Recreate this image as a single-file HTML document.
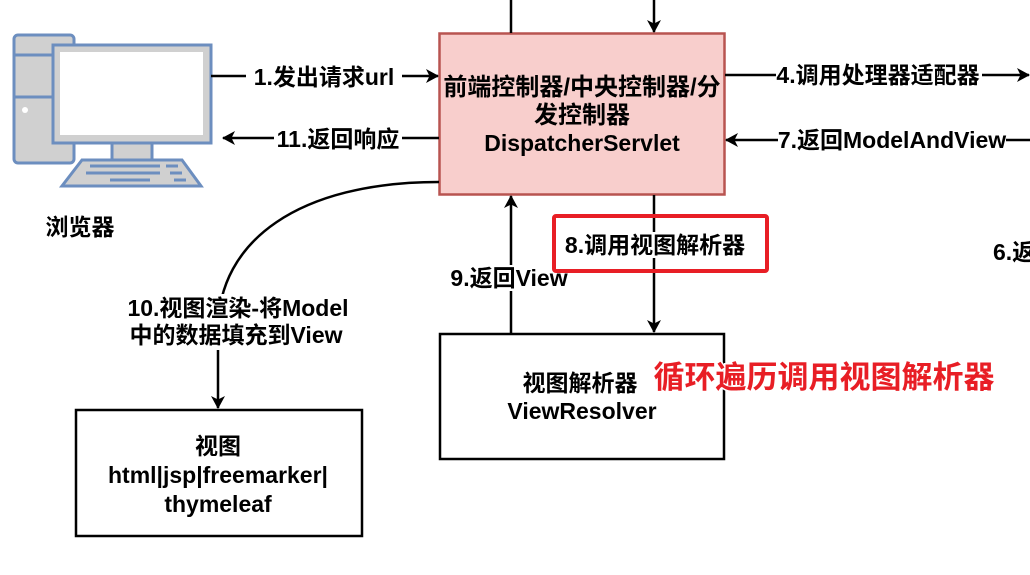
<!DOCTYPE html>
<html><head><meta charset="utf-8"><style>body{margin:0;background:#fff}svg{display:block}text{font-family:"Liberation Sans","Noto Sans CJK SC",sans-serif;font-weight:bold;font-size:23px;fill:#000}</style></head><body>
<svg width="1030" height="575" viewBox="0 0 1030 575" xmlns="http://www.w3.org/2000/svg">
<defs><marker id="a" markerWidth="14" markerHeight="14" refX="12" refY="7" orient="auto" markerUnits="userSpaceOnUse"><path d="M0,0 L13,7 L0,14 L3.5,7 Z" fill="#000"/></marker></defs>
<g stroke="#6c8ebf" stroke-width="3" fill="#d0d0d0">
<rect x="14" y="35" width="60" height="128" rx="4"/>
<line x1="14" y1="55" x2="74" y2="55"/><line x1="14" y1="97" x2="74" y2="97"/>
<rect x="112" y="142" width="40" height="20"/>
<path d="M82,160 L182,160 L201,186 L62,186 Z"/>
<rect x="53" y="45" width="158" height="98"/>
<rect x="60" y="52" width="143" height="83" fill="#fff" stroke="none"/>
</g>
<circle cx="25" cy="110" r="3" fill="#fff"/>
<g stroke="#6c8ebf" stroke-width="3"><line x1="90" y1="166" x2="160" y2="166"/><line x1="86" y1="173" x2="160" y2="173"/><line x1="110" y1="180" x2="150" y2="180"/><line x1="166" y1="166" x2="178" y2="166"/><line x1="170" y1="173" x2="182" y2="173"/><line x1="174" y1="180" x2="186" y2="180"/></g>
<text x="80" y="235" text-anchor="middle">浏览器</text>
<rect x="439.5" y="33.5" width="285" height="161" fill="#f8cecc" stroke="#b85450" stroke-width="2.5"/>
<text x="582" y="95" text-anchor="middle" style="font-size:24px">前端控制器/中央控制器/分</text>
<text x="582" y="123" text-anchor="middle" style="font-size:24px">发控制器</text>
<text x="582" y="151" text-anchor="middle">DispatcherServlet</text>
<g stroke="#000" stroke-width="2.5" fill="none">
<line x1="511" y1="0" x2="511" y2="33"/>
<line x1="654" y1="0" x2="654" y2="32" marker-end="url(#a)"/>
<line x1="211" y1="76" x2="438" y2="76" marker-end="url(#a)"/>
<line x1="439" y1="138" x2="223" y2="138" marker-end="url(#a)"/>
<line x1="725" y1="75" x2="1029" y2="75" marker-end="url(#a)"/>
<line x1="1030" y1="140" x2="726" y2="140" marker-end="url(#a)"/>
<line x1="654" y1="195" x2="654" y2="332" marker-end="url(#a)"/>
<line x1="511" y1="333" x2="511" y2="196" marker-end="url(#a)"/>
<path d="M439,182 C300,182 218,240 218,330 L218,408" marker-end="url(#a)"/>
</g>
<rect x="246" y="63" width="156" height="26" fill="#fff"/><text x="324" y="85" text-anchor="middle">1.发出请求url</text>
<rect x="274" y="125" width="128" height="26" fill="#fff"/><text x="338" y="147" text-anchor="middle">11.返回响应</text>
<rect x="776" y="62" width="206" height="26" fill="#fff"/><text x="878" y="83" text-anchor="middle">4.调用处理器适配器</text>
<rect x="778" y="127" width="228" height="26" fill="#fff"/><text x="892" y="148" text-anchor="middle">7.返回ModelAndView</text>
<rect x="448" y="265" width="122" height="26" fill="#fff"/><text x="509" y="286" text-anchor="middle">9.返回View</text>
<rect x="564" y="232" width="182" height="26" fill="#fff"/>
<rect x="554" y="216" width="213" height="55" fill="none" stroke="#e81e25" stroke-width="4" rx="2"/>
<text x="655" y="253" text-anchor="middle">8.调用视图解析器</text>
<text x="993" y="260">6.返</text>
<rect x="125" y="294" width="228" height="56" fill="#fff"/>
<text x="238" y="316" text-anchor="middle">10.视图渲染-将Model</text>
<text x="236" y="343" text-anchor="middle">中的数据填充到View</text>
<rect x="440" y="334" width="284" height="125" fill="#fff" stroke="#000" stroke-width="2.5"/>
<text x="580" y="391" text-anchor="middle">视图解析器</text>
<text x="582" y="419" text-anchor="middle">ViewResolver</text>
<text x="824" y="388" text-anchor="middle" style="font-size:31px;fill:#e81e25;stroke:#fff;stroke-width:3;paint-order:stroke">循环遍历调用视图解析器</text>
<rect x="76" y="410" width="286" height="126" fill="#fff" stroke="#000" stroke-width="2.5"/>
<text x="218" y="454" text-anchor="middle">视图</text>
<text x="218" y="483" text-anchor="middle">html|jsp|freemarker|</text>
<text x="218" y="512" text-anchor="middle">thymeleaf</text>
</svg>
</body></html>
